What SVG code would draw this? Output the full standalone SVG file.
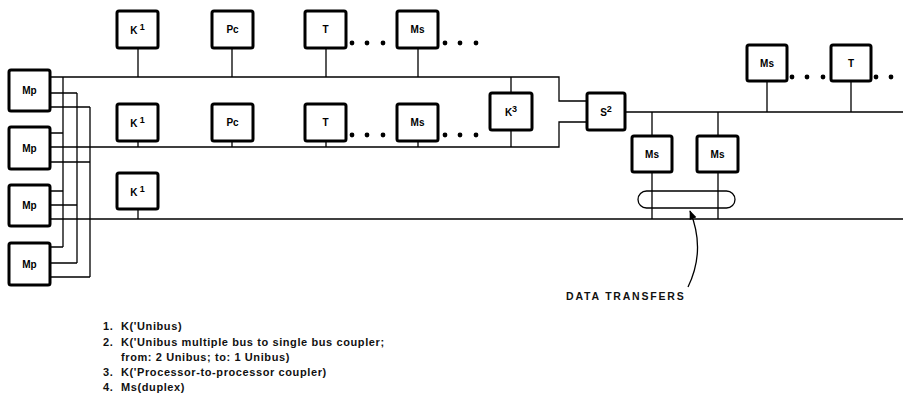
<svg xmlns="http://www.w3.org/2000/svg" width="903" height="402" viewBox="0 0 903 402">
<style>
.box{fill:#fff;stroke:#000;stroke-width:3;}
.ln{fill:none;stroke:#000;stroke-width:1.3;}
.lbl{font-family:"Liberation Sans",Arial,sans-serif;font-weight:bold;font-size:10px;fill:#000;text-anchor:middle;}
.leg{font-family:"Liberation Sans",Arial,sans-serif;font-weight:bold;font-size:11px;letter-spacing:0.6px;fill:#111;}
.dt{font-family:"Liberation Sans",Arial,sans-serif;font-weight:bold;font-size:10.5px;letter-spacing:1.8px;fill:#111;}
.dot{fill:#000;}
</style>
<defs>
<marker id="ah" viewBox="0 0 10 10" refX="9" refY="5" markerWidth="7" markerHeight="7" orient="auto">
<path d="M0,1 L10,5 L0,9 z" fill="#000"/>
</marker>
</defs>
<rect width="903" height="402" fill="#fff"/>
<g id="connectors" class="ln">
<path d="M50 77 H559 V101 H587"/>
<path d="M50 147 H559 V122 H587"/>
<path d="M625 112 H903"/>
<path d="M50 219 H903"/>
<path d="M50 93 H77 M50 107 H90 M50 133 H63 M50 162 H90 M50 191 H63 M50 205 H77 M50 247 H63 M50 263 H77 M50 277 H90"/>
<path d="M63 77 V247 M77 93 V263 M90 107 V277"/>
<path d="M138 48 V77 M232 48 V77 M326 48 V77 M418 48 V77"/>
<path d="M138 141 V147 M232 141 V147 M326 141 V147 M418 141 V147"/>
<path d="M511 77 V93 M511 130 V147"/>
<path d="M138 209 V219"/>
<path d="M767 81 V112 M851 81 V112"/>
<path d="M652 112 V136 M652 172 V219 M718 112 V136 M718 172 V219"/>
<rect x="638" y="191" width="97" height="17" rx="8.5" ry="8.5"/>
<path d="M688 287 Q706 250 690 211" marker-end="url(#ah)"/>
</g>
<g id="dots">
<circle class="dot" cx="352" cy="43" r="2.4"/><circle class="dot" cx="367" cy="43" r="2.4"/><circle class="dot" cx="383" cy="43" r="2.4"/>
<circle class="dot" cx="445" cy="43" r="2.4"/><circle class="dot" cx="460" cy="43" r="2.4"/><circle class="dot" cx="476" cy="43" r="2.4"/>
<circle class="dot" cx="352" cy="135" r="2.4"/><circle class="dot" cx="367" cy="135" r="2.4"/><circle class="dot" cx="383" cy="135" r="2.4"/>
<circle class="dot" cx="445" cy="135" r="2.4"/><circle class="dot" cx="460" cy="135" r="2.4"/><circle class="dot" cx="476" cy="135" r="2.4"/>
<circle class="dot" cx="792" cy="77" r="2.4"/><circle class="dot" cx="807" cy="77" r="2.4"/><circle class="dot" cx="823" cy="77" r="2.4"/>
<circle class="dot" cx="876" cy="77" r="2.4"/><circle class="dot" cx="891" cy="77" r="2.4"/>
</g>
<g id="mp1"><rect class="box" x="9" y="70" width="41" height="41" rx="2"/><text class="lbl" x="29.5" y="94">Mp</text></g>
<g id="mp2"><rect class="box" x="9" y="127" width="41" height="42" rx="2"/><text class="lbl" x="29.5" y="152">Mp</text></g>
<g id="mp3"><rect class="box" x="9" y="185" width="41" height="41" rx="2"/><text class="lbl" x="29.5" y="209">Mp</text></g>
<g id="mp4"><rect class="box" x="9" y="243" width="41" height="42" rx="2"/><text class="lbl" x="29.5" y="268">Mp</text></g>
<g id="k1a"><rect class="box" x="117" y="11" width="41" height="37" rx="2"/><text class="lbl" x="137.5" y="34">K<tspan font-size="9" dy="-4"> 1</tspan></text></g>
<g id="pca"><rect class="box" x="212" y="11" width="41" height="37" rx="2"/><text class="lbl" x="232.5" y="33">Pc</text></g>
<g id="ta"><rect class="box" x="305" y="11" width="41" height="37" rx="2"/><text class="lbl" x="325.5" y="33">T</text></g>
<g id="msa"><rect class="box" x="397" y="11" width="41" height="37" rx="2"/><text class="lbl" x="417.5" y="33">Ms</text></g>
<g id="k1b"><rect class="box" x="117" y="104" width="41" height="37" rx="2"/><text class="lbl" x="137.5" y="127">K<tspan font-size="9" dy="-4"> 1</tspan></text></g>
<g id="pcb"><rect class="box" x="212" y="104" width="41" height="37" rx="2"/><text class="lbl" x="232.5" y="126">Pc</text></g>
<g id="tb"><rect class="box" x="305" y="104" width="41" height="37" rx="2"/><text class="lbl" x="325.5" y="126">T</text></g>
<g id="msb"><rect class="box" x="397" y="104" width="41" height="37" rx="2"/><text class="lbl" x="417.5" y="126">Ms</text></g>
<g id="k3"><rect class="box" x="490" y="93" width="42" height="37" rx="2"/><text class="lbl" x="511" y="116">K<tspan font-size="9" dy="-4">3</tspan></text></g>
<g id="k1c"><rect class="box" x="117" y="173" width="41" height="36" rx="2"/><text class="lbl" x="137.5" y="196">K<tspan font-size="9" dy="-4"> 1</tspan></text></g>
<g id="s2"><rect class="box" x="587" y="93" width="38" height="37" rx="2"/><text class="lbl" x="606" y="116">S<tspan font-size="9" dy="-4">2</tspan></text></g>
<g id="msc"><rect class="box" x="747" y="45" width="40" height="36" rx="2"/><text class="lbl" x="767" y="67">Ms</text></g>
<g id="tc"><rect class="box" x="831" y="45" width="40" height="36" rx="2"/><text class="lbl" x="851" y="67">T</text></g>
<g id="msd"><rect class="box" x="632" y="136" width="40" height="36" rx="2"/><text class="lbl" x="652" y="158">Ms</text></g>
<g id="mse"><rect class="box" x="697" y="136" width="41" height="36" rx="2"/><text class="lbl" x="717.5" y="158">Ms</text></g>
<text class="dt" x="566" y="300">DATA TRANSFERS</text>
<g id="legend" class="leg">
<text x="103" y="330">1.</text><text x="121" y="330">K('Unibus)</text>
<text x="103" y="346">2.</text><text x="121" y="346">K('Unibus multiple bus to single bus coupler;</text>
<text x="121" y="361">from: 2 Unibus; to: 1 Unibus)</text>
<text x="103" y="376">3.</text><text x="121" y="376">K('Processor-to-processor coupler)</text>
<text x="103" y="391">4.</text><text x="121" y="391">Ms(duplex)</text>
</g>
</svg>
